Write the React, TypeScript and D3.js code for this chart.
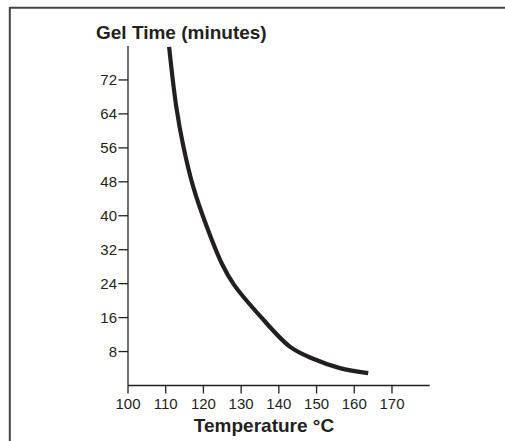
import React from "react";
import * as d3 from "d3";

const temps = [110.9, 112.8, 114.7, 117.3, 120.9, 124.9, 128.0, 135.0, 143.0, 149.1, 156.2, 163.7];
const gelTimes = [79.8, 65.7, 56.3, 46.8, 37.4, 28.7, 23.9, 16.4, 9.1, 6.3, 4.1, 2.9];
const xTicks = [100, 110, 120, 130, 140, 150, 160, 170];
const yTicks = [8, 16, 24, 32, 40, 48, 56, 64, 72];

const W = 505;
const H = 441;
const ink = "#231f20";
const font = "Liberation Sans, Arial, Helvetica, sans-serif";

export default function App() {
  const x = d3.scaleLinear().domain([100, 180]).range([128, 429.7]);
  const y = d3.scaleLinear().domain([0, 80]).range([385.5, 46]);
  const pts: [number, number][] = temps.map((t, i) => [t, gelTimes[i]]);
  const line = d3
    .line<[number, number]>()
    .x((d) => x(d[0]))
    .y((d) => y(d[1]))
    .curve(d3.curveCatmullRom.alpha(0.5));

  return (
    <svg
      width={W}
      height={H}
      style={{ position: "absolute", left: 0, top: 0 }}
      fontFamily={font}
    >
      <rect x={0} y={0} width={W} height={H} fill="#fff" />
      {/* frame */}
      <line x1={9.8} y1={7.8} x2={W} y2={7.8} stroke="#444" strokeWidth={2} />
      <line x1={9.8} y1={7} x2={9.8} y2={H} stroke="#444" strokeWidth={2} />

      {/* title */}
      <text x={96} y={39} fontSize={19} fontWeight="bold" fill={ink}>
        Gel Time (minutes)
      </text>

      {/* y axis */}
      <line x1={x(100)} y1={y(80)} x2={x(100)} y2={y(0)} stroke={ink} strokeWidth={1.3} />
      {yTicks.map((t) => (
        <g key={t}>
          <line x1={x(100) - 9.5} x2={x(100)} y1={y(t)} y2={y(t)} stroke={ink} strokeWidth={1.3} />
          <text
            x={x(100) - 11}
            y={y(t)}
            dy="0.36em"
            textAnchor="end"
            fontSize={15}
            fill={ink}
          >
            {t}
          </text>
        </g>
      ))}

      {/* x axis */}
      <line x1={x(100)} y1={y(0)} x2={x(180)} y2={y(0)} stroke={ink} strokeWidth={1.3} />
      {xTicks.map((t) => (
        <g key={t}>
          <line x1={x(t)} x2={x(t)} y1={y(0)} y2={y(0) + 8} stroke={ink} strokeWidth={1.3} />
          <text x={x(t)} y={409} textAnchor="middle" fontSize={15} fill={ink}>
            {t}
          </text>
        </g>
      ))}
      <text x={264} y={432} textAnchor="middle" fontSize={19} fontWeight="bold" fill={ink}>
        Temperature °C
      </text>

      {/* curve */}
      <path d={line(pts) || ""} fill="none" stroke={ink} strokeWidth={4.2} />
    </svg>
  );
}
